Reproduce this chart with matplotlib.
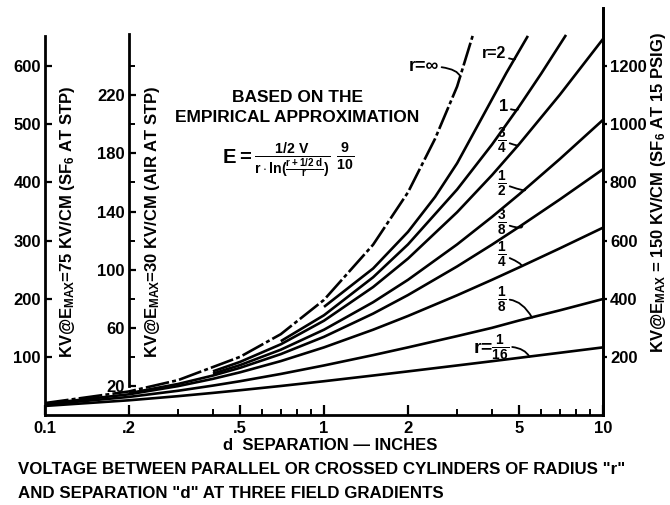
import numpy as np
import matplotlib
matplotlib.use("Agg")
import matplotlib.pyplot as plt

plt.rcParams['font.family'] = ['Liberation Sans', 'DejaVu Sans']
plt.rcParams['font.weight'] = 'bold'
plt.rcParams['mathtext.fontset'] = 'custom'
plt.rcParams['mathtext.rm'] = 'Liberation Sans:bold'
plt.rcParams['mathtext.bf'] = 'Liberation Sans:bold'
plt.rcParams['mathtext.it'] = 'Liberation Sans:bold'
plt.rcParams['mathtext.default'] = 'bf'

# ---------------- data (left-axis units: kV @ 75 kV/cm) -------------
d_inf = [0.1, 0.2, 0.3, 0.5, 0.7, 1, 1.5, 2, 2.5, 3, 3.42]
v_inf = [20.5, 40.5, 60, 100, 139, 198, 293, 383, 475, 565, 654]

d_r2 = [1, 1.5, 2, 2.5, 3, 3.68, 4.5, 5.38]
v_r2 = [186, 252, 315, 375, 433, 511, 588, 652]

d_r1 = [0.7, 1, 1.5, 2, 3, 4, 5, 6, 7.37]
v_r1 = [127, 171.6, 236.9, 293.4, 387.9, 465.1, 530.3, 586.9, 653.7]

d_r34 = [0.4, 0.5, 0.7, 1, 1.5, 2, 3, 4, 5, 7, 10]
v_r34 = [75.1, 91.3, 121.6, 162.2, 220.1, 269.0, 348.8, 412.5, 465.6, 550.7, 646.7]

d_r12 = [0.4, 0.5, 0.7, 1, 1.5, 2, 3, 4, 5, 7, 10]
v_r12 = [71.2, 85.8, 112.3, 146.7, 194.0, 232.5, 293.4, 340.7, 379.3, 440.2, 507.6]

d_r38 = [0.2, 0.3, 0.4, 0.5, 0.7, 1, 1.5, 2, 3, 4, 5, 7, 10]
v_r38 = [37.5, 53.4, 67.9, 81.1, 104.7, 134.5, 174.4, 206.3, 255.5, 293.0, 323.4, 370.7, 422.7]

d_small = [0.1, 0.2, 0.3, 0.4, 0.5, 0.7, 1, 1.5, 2, 3, 4, 5, 7, 10]
v_r14 = [19.3, 35.6, 49.7, 62.2, 73.4, 92.7, 116.3, 146.7, 170.3, 205.9, 232.5, 253.8, 286.6, 322.2]
v_r18 = [17.8, 31.1, 41.7, 50.6, 58.1, 70.6, 85.2, 103.0, 116.3, 135.7, 149.9, 162.5, 180.0, 199.5]
v_r116 = [15.6, 25.3, 32.4, 38.0, 42.6, 49.9, 58.1, 67.9, 75.0, 85.2, 92.5, 98.3, 107.0, 116.3]

x_ticks = [0.1, 0.2, 0.5, 1, 2, 5, 10]
x_ticklabels = ['0.1', '.2', '.5', '1', '2', '5', '10']
left_ticks = [100, 200, 300, 400, 500, 600]
air_ticks = [20, 60, 100, 140, 180, 220]
air_minor = [40, 80, 120, 160, 200, 240]
right_ticks = [200, 400, 600, 800, 1000, 1200]

# ---------------- figure ----------------
W, H = 670, 505
fig = plt.figure(figsize=(W / 100, H / 100), dpi=100)
ax = fig.add_axes([45 / W, (H - 415) / H, (603 - 45) / W, (415 - 8) / H])
ax.set_xscale('log')
ax.set_xlim(0.1, 10)
ax.set_ylim(0, 700)

lw = 1.9
ax.plot(d_inf, v_inf, color='black', lw=lw, linestyle=(0, (9, 1.2, 1.5, 1.2)))
for dd, vv in [(d_r2, v_r2), (d_r1, v_r1), (d_r34, v_r34), (d_r12, v_r12),
               (d_r38, v_r38), (d_small, v_r14), (d_small, v_r18), (d_small, v_r116)]:
    ax.plot(dd, vv, color='black', lw=lw, solid_capstyle='butt')

# spines
ax.spines['top'].set_visible(False)
for s in ['left', 'right', 'bottom']:
    ax.spines[s].set_linewidth(2.0)
ax.spines['left'].set_bounds(0, 651)

ax.set_xticks(x_ticks)
ax.set_xticklabels(x_ticklabels)
ax.tick_params(axis='x', which='major', direction='in', length=7, width=1.6,
               labelsize=12, pad=4)
ax.tick_params(axis='x', which='minor', direction='in', length=4, width=1.4)
ax.set_yticks(left_ticks)
ax.tick_params(axis='y', which='major', direction='in', length=5, width=1.6,
               labelsize=12, pad=3, right=False)

# right axis (150 kV/cm)
rax = ax.secondary_yaxis('right', functions=(lambda v: v * 2, lambda v: v / 2))
rax.set_yticks(right_ticks)
rax.tick_params(axis='y', direction='out', length=3, width=1.6, labelsize=12, pad=2)
rax.spines['right'].set_linewidth(2.0)

# air axis (30 kV/cm) placed at d = 0.2
pos = np.log10(0.2 / 0.1) / 2
aax = ax.secondary_yaxis(pos, functions=(lambda v: v * 0.4, lambda v: v / 0.4))
aax.set_yticks(air_ticks)
aax.set_yticks(air_minor, minor=True)
aax.tick_params(axis='y', which='major', direction='in', length=5, width=1.6,
                labelsize=12, pad=3)
aax.tick_params(axis='y', which='minor', direction='in', length=4, width=1.4)
aax.spines['left'].set_linewidth(2.0)
aax.spines['left'].set_bounds(20, 262)

# curve labels and hooks
hk = dict(arrowstyle='-', lw=1.3, color='black', shrinkA=0, shrinkB=0)


def on(dd, vv, x):
    return (x, float(np.interp(x, dd, vv)))


ax.annotate('r=∞', xy=on(d_inf, v_inf, 3.08), xytext=(2.58, 600), fontsize=13,
            ha='right', va='center',
            arrowprops=dict(hk, connectionstyle='angle3,angleA=0,angleB=110'))
ax.annotate('r=2', xy=on(d_r2, v_r2, 4.84), xytext=(4.5, 622), fontsize=11.5,
            ha='right', va='center',
            arrowprops=dict(hk, connectionstyle='angle3,angleA=-20,angleB=110'))
ax.annotate('1', xy=on(d_r1, v_r1, 4.96), xytext=(4.4, 530), fontsize=12,
            ha='center', va='center',
            arrowprops=dict(hk, connectionstyle='angle3,angleA=-20,angleB=110'))
fr = [(r'$\frac{3}{4}$', d_r34, v_r34, 4.96, 472),
      (r'$\frac{1}{2}$', d_r12, v_r12, 5.26, 398),
      (r'$\frac{3}{8}$', d_r38, v_r38, 5.13, 330),
      (r'$\frac{1}{4}$', d_small, v_r14, 5.13, 275)]
for lab, dd, vv, xh, yt in fr:
    ax.annotate(lab, xy=on(dd, vv, xh), xytext=(4.35, yt),
                fontsize=14, ha='center', va='center',
                arrowprops=dict(hk, connectionstyle='angle3,angleA=-20,angleB=110'))
ax.annotate(r'$\frac{1}{8}$', xy=on(d_small, v_r18, 5.57), xytext=(4.35, 198),
            fontsize=14, ha='center', va='center',
            arrowprops=dict(hk, connectionstyle='angle3,angleA=10,angleB=120'))
ax.annotate(r'r=$\frac{1}{16}$', xy=on(d_small, v_r116, 5.45), xytext=(4.62, 115),
            fontsize=14, ha='right', va='center',
            arrowprops=dict(hk, connectionstyle='angle3,angleA=10,angleB=120'))


# figure texts (pixel positions)
def ft(x, y, s, **kw):
    fig.text(x / W, 1 - y / H, s, **kw)


ft(68, 222, r'KV@E$_{MAX}$=75 KV/CM (SF$_6$ AT STP)', rotation=90, ha='center',
   va='center', fontsize=12)
ft(152, 222, r'KV@E$_{MAX}$=30 KV/CM (AIR AT STP)', rotation=90, ha='center',
   va='center', fontsize=12)
ft(658, 192, r'KV@E$_{MAX}$ = 150 KV/CM (SF$_6$ AT 15 PSIG)', rotation=90,
   ha='center', va='center', fontsize=12)

ft(297, 97, 'BASED ON THE', ha='center', va='center', fontsize=12.5)
ft(297, 118, 'EMPIRICAL APPROXIMATION', ha='center', va='center', fontsize=12.5)
ft(288, 160, r'$E=\frac{1/2\ V}{r\cdot\ln(\frac{r+1/2\ d}{r})}\ \frac{9}{10}$',
   ha='center', va='center', fontsize=14.5)

ft(330, 445, 'd  SEPARATION — INCHES', ha='center', va='center', fontsize=12)
ft(18, 470, 'VOLTAGE BETWEEN PARALLEL OR CROSSED CYLINDERS OF RADIUS "r"',
   ha='left', va='center', fontsize=12.2)
ft(18, 493, 'AND SEPARATION "d" AT THREE FIELD GRADIENTS',
   ha='left', va='center', fontsize=12.2)

fig.savefig('out.png', dpi=100)
